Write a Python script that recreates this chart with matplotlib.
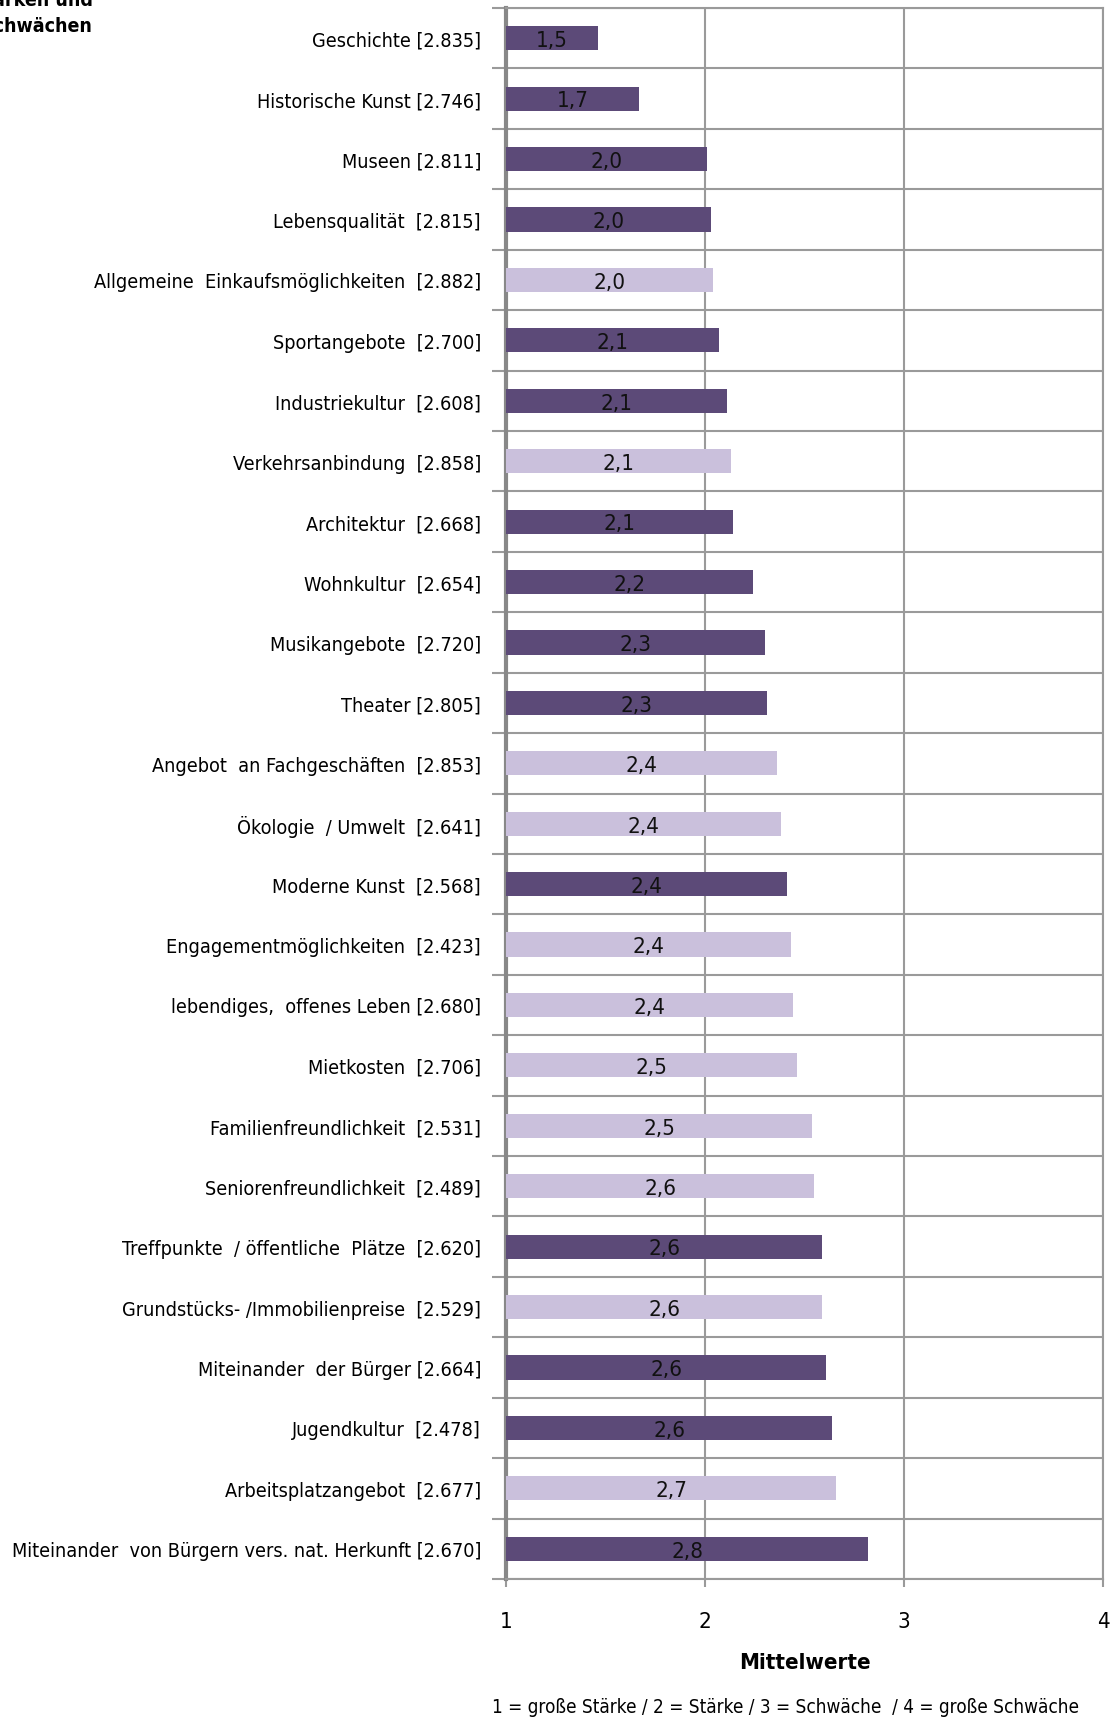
import matplotlib.pyplot as plt

plt.rcParams['font.family'] = ['DejaVu Sans']
plt.rcParams['font.stretch'] = 'condensed'

labels = [
    "Geschichte [2.835]", "Historische Kunst [2.746]", "Museen [2.811]",
    "Lebensqualität  [2.815]", "Allgemeine  Einkaufsmöglichkeiten  [2.882]",
    "Sportangebote  [2.700]", "Industriekultur  [2.608]", "Verkehrsanbindung  [2.858]",
    "Architektur  [2.668]", "Wohnkultur  [2.654]", "Musikangebote  [2.720]",
    "Theater [2.805]", "Angebot  an Fachgeschäften  [2.853]", "Ökologie  / Umwelt  [2.641]",
    "Moderne Kunst  [2.568]", "Engagementmöglichkeiten  [2.423]",
    "lebendiges,  offenes Leben [2.680]", "Mietkosten  [2.706]",
    "Familienfreundlichkeit  [2.531]", "Seniorenfreundlichkeit  [2.489]",
    "Treffpunkte  / öffentliche  Plätze  [2.620]", "Grundstücks- /Immobilienpreise  [2.529]",
    "Miteinander  der Bürger [2.664]", "Jugendkultur  [2.478]",
    "Arbeitsplatzangebot  [2.677]", "Miteinander  von Bürgern vers. nat. Herkunft [2.670]",
]
values = [1.46, 1.67, 2.01, 2.03, 2.04, 2.07, 2.11, 2.13, 2.14, 2.24, 2.30, 2.31, 2.36,
          2.38, 2.41, 2.43, 2.44, 2.46, 2.54, 2.55, 2.59, 2.59, 2.61, 2.64, 2.66, 2.82]
shown = ["1,5", "1,7", "2,0", "2,0", "2,0", "2,1", "2,1", "2,1", "2,1", "2,2", "2,3", "2,3", "2,4",
         "2,4", "2,4", "2,4", "2,4", "2,5", "2,5", "2,6", "2,6", "2,6", "2,6", "2,6", "2,7", "2,8"]
# 1 = dunkel, 0 = hell
dark = [1, 1, 1, 1, 0, 1, 1, 0, 1, 1, 1, 1, 0, 0, 1, 0, 0, 0, 0, 0, 1, 0, 1, 1, 0, 1]

c_dark = '#5c4a78'
c_light = '#cac0dc'
grid_c = '#9a9a9a'

fig = plt.figure(figsize=(11.15, 17.24), dpi=100)
ax = fig.add_axes([506 / 1115, 1 - 1580 / 1724, 597 / 1115, 1571 / 1724])

ypos = list(range(len(labels)))
colors = [c_dark if d else c_light for d in dark]
ax.barh(ypos, [v - 1 for v in values], left=1, height=0.4, color=colors, zorder=3)

for y, v, s in zip(ypos, values, shown):
    ax.text((1 + v) / 2, y + 0.03, s, ha='center', va='center', fontsize=16, color='#111111', zorder=4)

ax.set_xlim(1, 4)
ax.set_ylim(len(labels) - 0.5, -0.5)
ax.set_xticks([1, 2, 3, 4])
ax.set_xticklabels(['1', '2', '3', '4'], fontsize=16)
ax.set_yticks(ypos)
ax.set_yticklabels(labels, fontsize=14.2)
ax.set_yticks([i - 0.5 for i in range(len(labels) + 1)], minor=True)

ax.tick_params(axis='y', which='major', length=0, pad=18)
ax.tick_params(axis='y', which='minor', length=10, width=1.5, color=grid_c)
ax.tick_params(axis='x', length=6, width=1.5, color=grid_c, pad=17)

ax.grid(True, axis='x', color=grid_c, linewidth=1.5, zorder=0)
ax.grid(True, axis='y', which='minor', color=grid_c, linewidth=1.5, zorder=0)

for side in ['top', 'right', 'bottom']:
    ax.spines[side].set_color(grid_c)
    ax.spines[side].set_linewidth(1.5)
ax.spines['left'].set_color('#888888')
ax.spines['left'].set_linewidth(3)

ax.set_xlabel('Mittelwerte', fontsize=16, fontweight='bold', labelpad=15)

fig.text(93 / 1115, 1 - 32 / 1724, 'Stärken und\nSchwächen', ha='right', va='baseline',
         fontsize=14, fontweight='bold', linespacing=1.5)
fig.text(786 / 1115, 1 - 1708 / 1724,
         '1 = große Stärke / 2 = Stärke / 3 = Schwäche  / 4 = große Schwäche',
         ha='center', va='center', fontsize=13.6)

fig.savefig('out.png', dpi=100)
